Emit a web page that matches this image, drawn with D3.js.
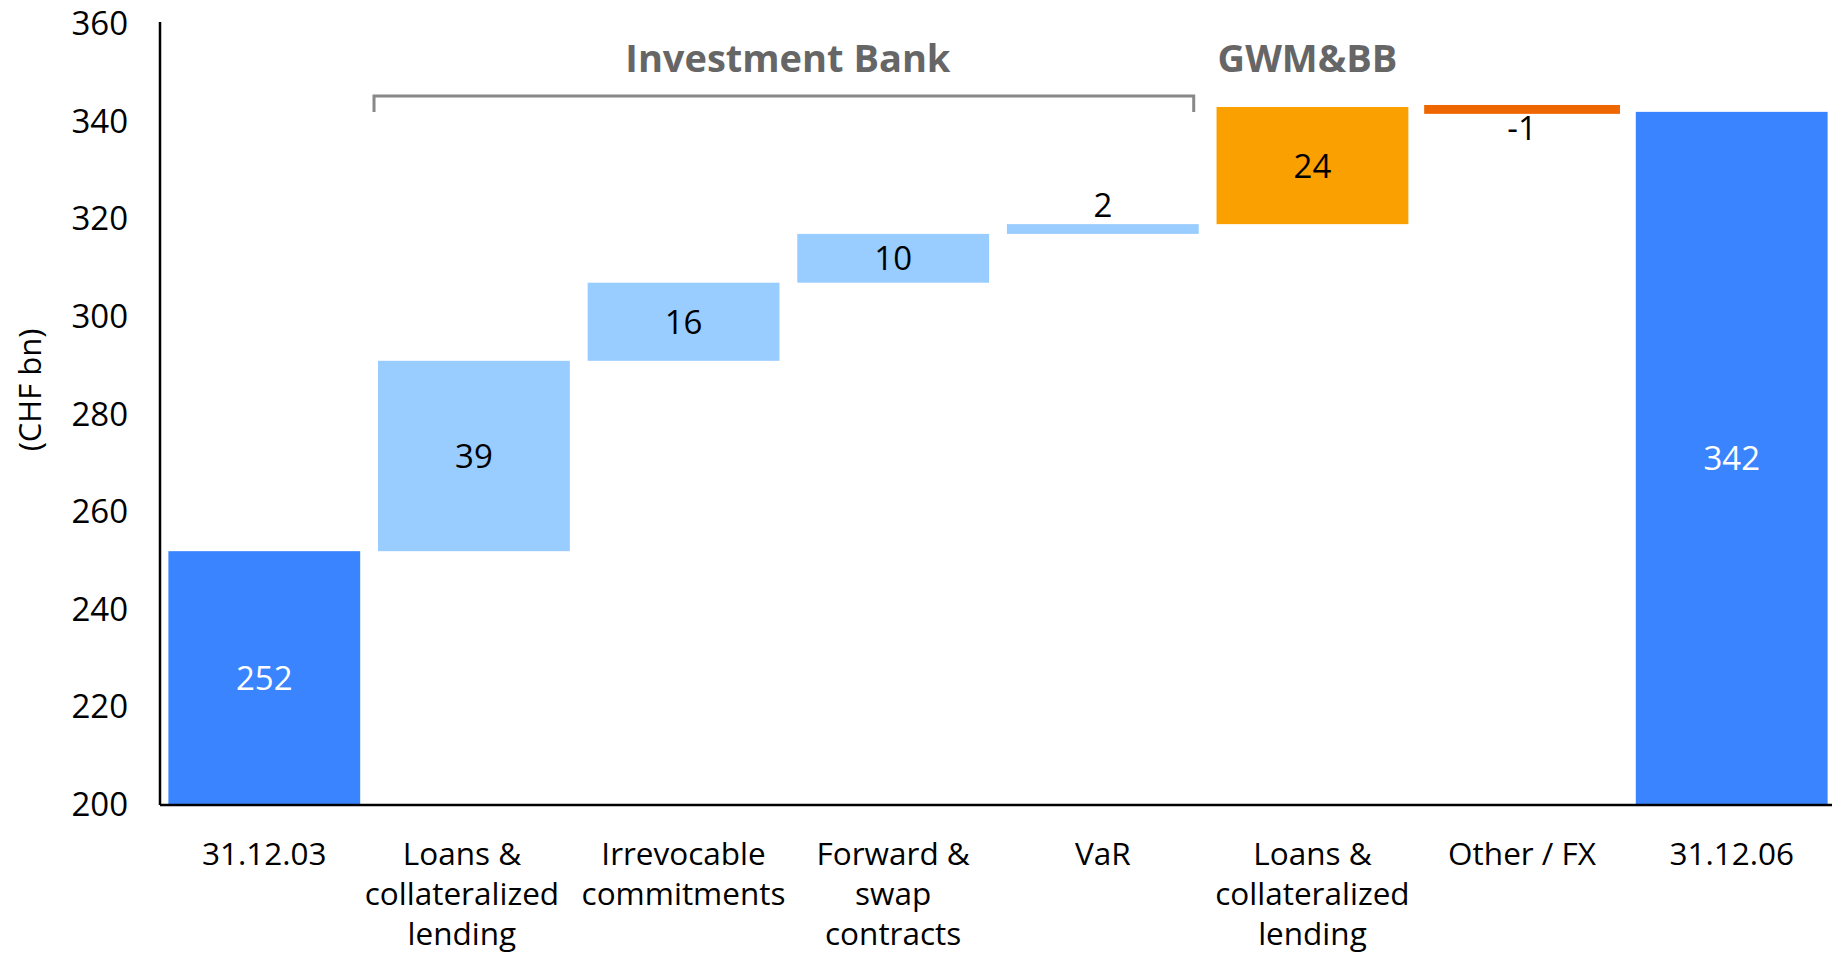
<!DOCTYPE html>
<html>
<head>
<meta charset="utf-8">
<script src="https://cdn.jsdelivr.net/npm/d3@7"></script>
<style>
  html, body { margin: 0; padding: 0; background: #fff; }
  svg { display: block; }
  text { font-family: "Open Sans", "Noto Sans", sans-serif; }
</style>
</head>
<body>
<svg id="chart" width="1832" height="954"></svg>
<script>
// ---- Data ----
const categories = [
  "31.12.03",
  "Loans &\ncollateralized\nlending",
  "Irrevocable\ncommitments",
  "Forward &\nswap\ncontracts",
  "VaR",
  "Loans &\ncollateralized\nlending",
  "Other / FX",
  "31.12.06"
];
const changes = [252, 39, 16, 10, 2, 24, -1, 342];
const kinds = ["total", "ib", "ib", "ib", "ib", "gwm", "other", "total"];
const valueLabels = ["252", "39", "16", "10", "2", "24", "-1", "342"];
const yTicks = [200, 220, 240, 260, 280, 300, 320, 340, 360];
const groupLabels = ["Investment Bank", "GWM&BB"];

// ---- Build waterfall segments ----
const base = 200;
let running = 0;
const segs = categories.map((c, i) => {
  let y0, y1;
  if (kinds[i] === "total") { y0 = base; y1 = changes[i]; running = changes[i]; }
  else { y0 = running; y1 = running + changes[i]; running = y1; }
  return { i, cat: c, kind: kinds[i], lo: Math.min(y0, y1), hi: Math.max(y0, y1), label: valueLabels[i], value: changes[i] };
});

const colors = { total: "#3A84FF", ib: "#99CCFF", gwm: "#FAA000", other: "#EE6600" };

const svg = d3.select("#chart");
const x = d3.scaleBand().domain(d3.range(categories.length)).range([160, 1836]).paddingInner(0.085).paddingOuter(0.04);
const y = d3.scaleLinear().domain([200, 360]).range([805, 24]);

// Bars
svg.append("g").selectAll("rect").data(segs).join("rect")
  .attr("x", d => x(d.i))
  .attr("width", x.bandwidth())
  .attr("y", d => y(d.hi))
  .attr("height", d => y(d.lo) - y(d.hi))
  .attr("fill", d => colors[d.kind])
  .attr("stroke", d => d.kind === "other" ? colors.other : "none")
  .attr("stroke-width", d => d.kind === "other" ? 4 : 0);

// Y axis
const yAxis = d3.axisLeft(y).tickValues(yTicks).tickSize(0).tickPadding(32);
const gy = svg.append("g").attr("transform", "translate(160,0)").call(yAxis);
gy.select(".domain").attr("stroke", "#000").attr("stroke-width", 2.5).attr("d", `M0,${y(360)-2}V${y(200)}`);
gy.selectAll("text").attr("font-size", 33).attr("fill", "#000").attr("font-family", "Open Sans");

// X axis line
svg.append("line").attr("x1", 160).attr("x2", 1832).attr("y1", y(200)).attr("y2", y(200))
  .attr("stroke", "#000").attr("stroke-width", 2.5);

// Category labels
const labelShift = i => (i === 1 ? -12 : 0);
const catG = svg.append("g");
categories.forEach((c, i) => {
  const cx = x(i) + x.bandwidth() / 2 + labelShift(i);
  const t = catG.append("text")
    .attr("x", cx)
    .attr("y", 865)
    .attr("text-anchor", "middle")
    .attr("font-size", 31.5)
    .attr("fill", "#000");
  c.split("\n").forEach((line, k) => {
    t.append("tspan").attr("x", cx).attr("dy", k === 0 ? 0 : 40).text(line);
  });
});

// Value labels
svg.append("g").selectAll("text").data(segs).join("text")
  .attr("x", d => x(d.i) + x.bandwidth() / 2)
  .attr("y", d => {
    const h = y(d.lo) - y(d.hi);
    if (h > 40) return (y(d.lo) + y(d.hi)) / 2 + 12;
    if (d.value < 0) return y(d.lo) + 28;
    return y(d.hi) - 7;
  })
  .attr("text-anchor", "middle")
  .attr("font-size", 33)
  .attr("fill", d => d.kind === "total" ? "#fff" : "#000")
  .text(d => d.label);

// Y axis title
svg.append("text")
  .attr("transform", `translate(41,${390}) rotate(-90)`)
  .attr("text-anchor", "middle")
  .attr("font-size", 31)
  .attr("fill", "#000")
  .text("(CHF bn)");

// Investment Bank bracket
const bx0 = x(1) - 4, bx1 = x(4) + x.bandwidth() - 5;
const by = 96;
svg.append("path")
  .attr("d", `M${bx0},${by + 16}V${by}H${bx1}V${by + 16}`)
  .attr("fill", "none").attr("stroke", "#888").attr("stroke-width", 3);

svg.append("text")
  .attr("x", (bx0 + bx1) / 2 + 4)
  .attr("y", 72)
  .attr("text-anchor", "middle")
  .attr("font-size", 38).attr("font-weight", "bold").attr("fill", "#666")
  .text(groupLabels[0]);

svg.append("text")
  .attr("x", x(5) + x.bandwidth() / 2 - 5)
  .attr("y", 72)
  .attr("text-anchor", "middle")
  .attr("font-size", 38).attr("font-weight", "bold").attr("fill", "#666")
  .text(groupLabels[1]);
</script>
</body>
</html>
